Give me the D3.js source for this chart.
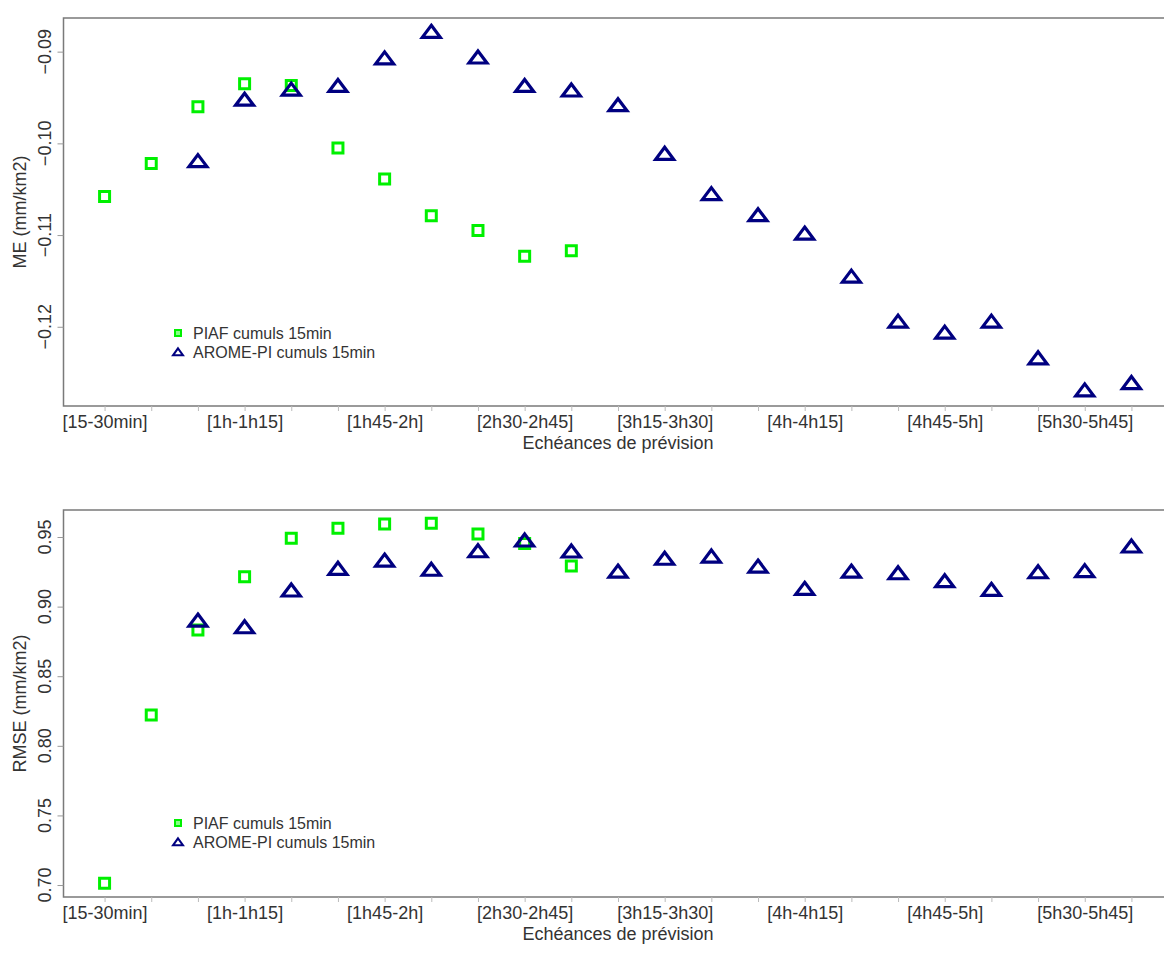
<!DOCTYPE html>
<html>
<head>
<meta charset="utf-8">
<script src="https://cdn.jsdelivr.net/npm/d3@7"></script>
<style>
  html, body { margin: 0; padding: 0; background: #fff; overflow: hidden; }
  svg { display: block; font-family: "Liberation Sans", Arial, sans-serif; }
</style>
</head>
<body>
<svg id="chart" width="1164" height="974"></svg>
<script>
// ---------- DATA ----------
const categories = [
  "[15-30min]", "[30-45min]", "[45min-1h]", "[1h-1h15]", "[1h15-1h30]", "[1h30-1h45]",
  "[1h45-2h]", "[2h-2h15]", "[2h15-2h30]", "[2h30-2h45]", "[2h45-3h]", "[3h-3h15]",
  "[3h15-3h30]", "[3h30-3h45]", "[3h45-4h]", "[4h-4h15]", "[4h15-4h30]", "[4h30-4h45]",
  "[4h45-5h]", "[5h-5h15]", "[5h15-5h30]", "[5h30-5h45]", "[5h45-6h]"
];
// PIAF: first 11 lead times; AROME-PI: from 3rd to 23rd lead time (null = no value)
const piafME = [-0.1058, -0.1022, -0.0960, -0.0935, -0.0937, -0.1005, -0.1039, -0.1079, -0.1095, -0.1123, -0.1117,
  null, null, null, null, null, null, null, null, null, null, null, null];
const aromeME = [null, null, -0.1021, -0.0954, -0.0943, -0.0939, -0.0909, -0.0880, -0.0908, -0.0939, -0.0944,
  -0.0960, -0.1013, -0.1057, -0.1080, -0.1100, -0.1147, -0.1196, -0.1208, -0.1196, -0.1236, -0.1271, -0.1263];
const piafRMSE = [0.7012, 0.8221, 0.8832, 0.9215, 0.9491, 0.9563, 0.9593, 0.9598, 0.9522, 0.9453, 0.9292,
  null, null, null, null, null, null, null, null, null, null, null, null];
const aromeRMSE = [null, null, 0.8889, 0.8841, 0.9105, 0.9261, 0.9320, 0.9254, 0.9387, 0.9464, 0.9385,
  0.9241, 0.9333, 0.9349, 0.9277, 0.9117, 0.9241, 0.9229, 0.9172, 0.9110, 0.9236, 0.9244, 0.9421];
const meTicks = [-0.12, -0.11, -0.10, -0.09];
const rmseTicks = [0.70, 0.75, 0.80, 0.85, 0.90, 0.95];
const seriesNames = ["PIAF cumuls 15min", "AROME-PI cumuls 15min"];
const xTitle = "Echéances de prévision";
const labelEvery = 3;

// ---------- STYLE ----------
const GREEN = "#00f000";
const NAVY = "#000080";
const FRAME = "#7a7a7a";
const TEXT = "#333";

const svg = d3.select("#chart");

const x = d3.scaleLinear().domain([-0.88, categories.length - 1 + 0.88]).range([63.5, 1172.5]);

function triPath(w, h) {
  return `M0,${-2 * h / 3}L${w / 2},${h / 3}L${-w / 2},${h / 3}Z`;
}
function sqPath(s) {
  return `M${-s / 2},${-s / 2}H${s / 2}V${s / 2}H${-s / 2}Z`;
}

function panel(cfg) {
  const g = svg.append("g");
  const y = d3.scaleLinear().domain(cfg.domain).range([cfg.bottom, cfg.top]);
  const left = x.range()[0], right = 1164;

  // frame (right side lies outside the picture)
  g.append("path")
    .attr("d", `M${right},${cfg.top}H${left}V${cfg.bottom}H${right}`)
    .attr("fill", "none").attr("stroke", FRAME).attr("stroke-width", 1.5);

  // x axis ticks & labels
  const xa = g.append("g").attr("transform", `translate(0,${cfg.bottom})`)
    .call(d3.axisBottom(x).tickValues(d3.range(categories.length))
      .tickSize(5).tickPadding(6)
      .tickFormat(i => (i % labelEvery === 0 ? categories[i] : "")));
  xa.select(".domain").remove();
  xa.selectAll(".tick line").attr("stroke", "#bbb");
  xa.selectAll(".tick text").attr("fill", TEXT).attr("font-size", 18)
    .attr("font-family", "Liberation Sans, Arial, sans-serif")
    .attr("dy", null).attr("y", 22).attr("dominant-baseline", "auto");

  // y axis ticks & labels (rotated, R style)
  const ya = g.append("g").attr("transform", `translate(${left},0)`)
    .call(d3.axisLeft(y).tickValues(cfg.ticks).tickSize(6).tickFormat(cfg.fmt));
  ya.select(".domain").remove();
  ya.selectAll(".tick line").attr("stroke", "#999");
  ya.selectAll(".tick text").remove();
  g.selectAll(".ylab").data(cfg.ticks).join("text")
    .attr("transform", d => `translate(50.5,${y(d)}) rotate(-90)`)
    .attr("text-anchor", "middle").attr("font-size", 18).attr("fill", TEXT)
    .text(cfg.fmt);

  // axis titles
  g.append("text")
    .attr("transform", `translate(26,${(cfg.top + cfg.bottom) / 2}) rotate(-90)`)
    .attr("text-anchor", "middle").attr("font-size", 18).attr("fill", TEXT)
    .text(cfg.yTitle);
  g.append("text")
    .attr("x", (x.range()[0] + x.range()[1]) / 2).attr("y", cfg.bottom + 43)
    .attr("text-anchor", "middle").attr("font-size", 18).attr("fill", TEXT)
    .text(xTitle);

  // points
  const piafPts = cfg.piaf.map((v, i) => ({ i, v })).filter(d => d.v !== null);
  const aromePts = cfg.arome.map((v, i) => ({ i, v })).filter(d => d.v !== null);
  g.selectAll(".sq").data(piafPts).join("path")
    .attr("d", sqPath(10))
    .attr("transform", d => `translate(${x(d.i)},${y(d.v)})`)
    .attr("fill", "none").attr("stroke", GREEN).attr("stroke-width", 3);
  g.selectAll(".tri").data(aromePts).join("path")
    .attr("d", triPath(18, 12))
    .attr("transform", d => `translate(${x(d.i)},${y(d.v)})`)
    .attr("fill", "none").attr("stroke", NAVY).attr("stroke-width", 3.2)
    .attr("stroke-linejoin", "miter");

  // legend
  const lg = g.append("g").attr("transform", `translate(178,${cfg.legendY})`);
  lg.append("path").attr("d", sqPath(6)).attr("fill", "#8f8")
    .attr("stroke", GREEN).attr("stroke-width", 2);
  lg.append("path").attr("d", triPath(10, 7)).attr("transform", "translate(0,20)")
    .attr("fill", "none").attr("stroke", NAVY).attr("stroke-width", 2);
  lg.selectAll(".lt").data(seriesNames).join("text")
    .attr("x", 15).attr("y", (d, k) => k * 19.5 + 5.5)
    .attr("font-size", 16).attr("fill", TEXT).text(d => d);
}

panel({
  top: 18, bottom: 406, domain: [-0.12864, -0.08633], ticks: meTicks,
  fmt: d3.format(".2f"), yTitle: "ME (mm/km2)", piaf: piafME, arome: aromeME, legendY: 333
});
panel({
  top: 510, bottom: 897, domain: [0.6914, 0.9694], ticks: rmseTicks,
  fmt: d3.format(".2f"), yTitle: "RMSE (mm/km2)", piaf: piafRMSE, arome: aromeRMSE, legendY: 823
});
</script>
</body>
</html>
